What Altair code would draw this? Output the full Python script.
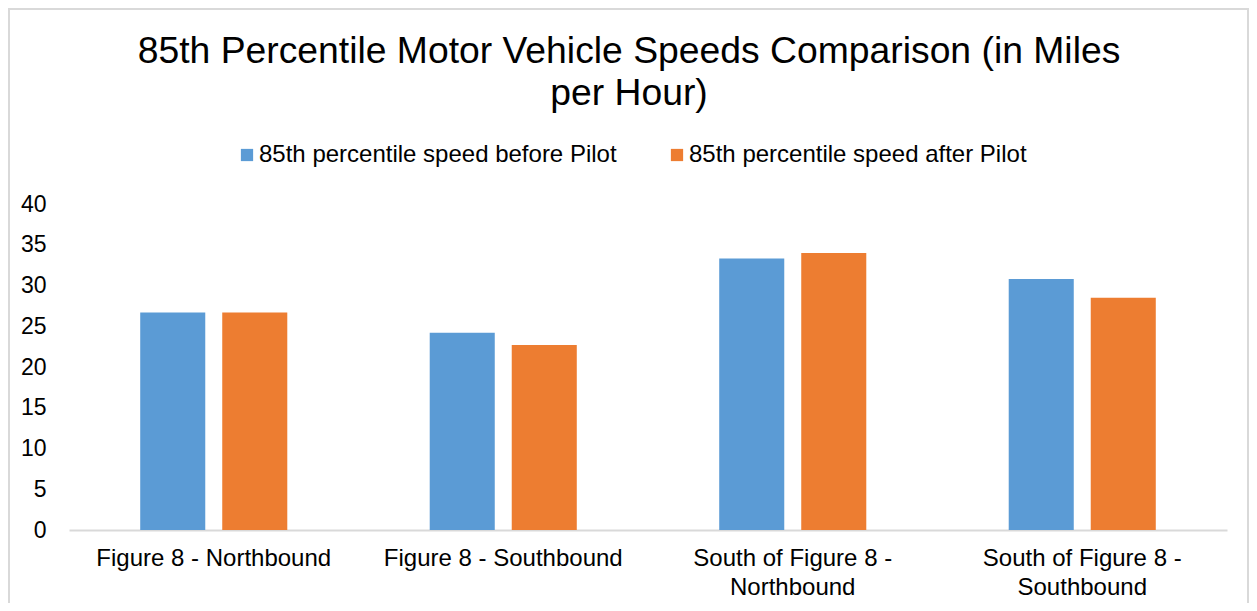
import altair as alt
import pandas as pd

categories = ["Figure 8 - Northbound", "Figure 8 - Southbound",
              "South of Figure 8 - Northbound", "South of Figure 8 - Southbound"]
series = ["85th percentile speed before Pilot", "85th percentile speed after Pilot"]
before = [26.7, 24.2, 33.3, 30.8]
after = [26.7, 22.7, 34.0, 28.5]
colors = ["#5B9BD5", "#ED7D31"]
y_ticks = [0, 5, 10, 15, 20, 25, 30, 35, 40]

rows = []
for c, b, a in zip(categories, before, after):
    rows.append({"category": c, "series": series[0], "value": b})
    rows.append({"category": c, "series": series[1], "value": a})
df = pd.DataFrame(rows)

FONT = "Liberation Sans"

bars = alt.Chart(df).mark_bar().encode(
    x=alt.X("category:N", sort=categories, title=None,
            scale=alt.Scale(paddingInner=0.492, paddingOuter=0.246),
            axis=alt.Axis(labelAngle=0, ticks=False, labelPadding=16,
                          labelFontSize=24, labelFont=FONT, labelColor="#000000",
                          labelLineHeight=29, labelLimit=400,
                          domainColor="#d9d9d9", domainWidth=2,
                          labelExpr="length(datum.value) > 22 ? [slice(datum.value, 0, 19), slice(datum.value, 20)] : datum.value")),
    xOffset=alt.XOffset("series:N", sort=series,
                        scale=alt.Scale(paddingInner=0.207, paddingOuter=0)),
    y=alt.Y("value:Q", title=None,
            scale=alt.Scale(domain=[0, 40], nice=False),
            axis=alt.Axis(values=y_ticks, grid=False, domain=False, ticks=False,
                          labelPadding=23, labelFontSize=23, labelFont=FONT,
                          labelColor="#000000")),
    color=alt.Color("series:N", sort=series,
                    scale=alt.Scale(domain=series, range=colors),
                    legend=alt.Legend(orient="none", direction="horizontal",
                                      legendX=166, legendY=-61, title=None,
                                      symbolType="square", symbolSize=150,
                                      symbolStrokeWidth=0, labelFontSize=24,
                                      labelFont=FONT, labelColor="#000000",
                                      labelOffset=0, columnPadding=48,
                                      labelLimit=500)),
)

frame = alt.Chart(alt.Data(values=[{}])).mark_rect(
    filled=False, stroke="#d9d9d9", strokeWidth=2, clip=False
).encode(
    x=alt.value(-60), x2=alt.value(1179),
    y=alt.value(-195), y2=alt.value(420),
)

chart = alt.layer(frame, bars).properties(
    width=1158, height=326,
    title=alt.TitleParams(
        text=["85th Percentile Motor Vehicle Speeds Comparison (in Miles", "per Hour)"],
        fontSize=37.3, font=FONT, fontWeight="normal", color="#000000",
        lineHeight=42, anchor="middle", dx=-19, dy=109),
    autosize=alt.AutoSizeParams(type="none"),
    padding={"left": 61, "top": 196, "right": 22, "bottom": 73},
).configure_view(stroke=None)

chart.save("out.html", embed_options={"renderer": "svg", "actions": False})
